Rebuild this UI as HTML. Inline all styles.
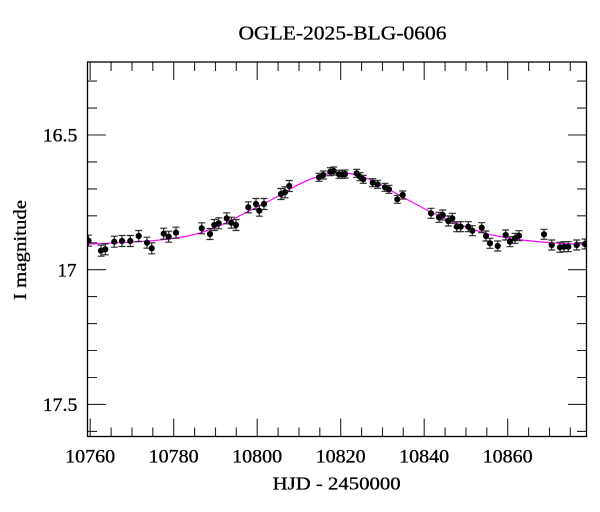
<!DOCTYPE html>
<html><head><meta charset="utf-8"><style>
html,body{margin:0;padding:0;background:#fff;}
svg{display:block;}
text{font-family:"Liberation Serif","DejaVu Serif",serif;fill:#000;stroke:#000;stroke-width:0.3;}
</style></head><body>
<svg width="600" height="512" viewBox="0 0 600 512" xmlns="http://www.w3.org/2000/svg">
<defs>
<clipPath id="cp"><rect x="87.5" y="62" width="499" height="374.5"/></clipPath>
<g id="a"><path d="M-3.5 -5.5H3.5M0 -5.5V5.5M-3.5 5.5H3.5" stroke="#2a2a2a" stroke-width="1.2" fill="none"/><circle r="3.1" fill="#000"/></g>
<g id="b"><path d="M-3.5 -4H3.5M0 -4V4M-3.5 4H3.5" stroke="#2a2a2a" stroke-width="1.2" fill="none"/><circle r="3.1" fill="#000"/></g>
<g id="c"><path d="M-3.5 -5H3.5M0 -5V5M-3.5 5H3.5" stroke="#2a2a2a" stroke-width="1.2" fill="none"/><circle r="3.1" fill="#000"/></g>
</defs>

<text x="342.5" y="39.5" font-size="20" text-anchor="middle" textLength="208" lengthAdjust="spacingAndGlyphs">OGLE-2025-BLG-0606</text>

<g clip-path="url(#cp)">
<polyline fill="none" stroke="#ff00ff" stroke-width="1.2" points="87.5,244 100,243.6 119,242.7 135,241.9 153,240.7 170,238.9 186,236.4 200,233 210,229.6 219,226 230,221 240,215.5 250,210.5 260,205.5 270,200.5 280,195 290,189 300,183.8 310,179.3 319,176.2 327,174 336,172.7 345,172.9 352,174 360,176 368,178.8 375,181.8 383,186 390,190 400,195.5 410,201 423,208 440,216.3 457,223.3 473,229.5 490,234.6 507,237.9 523,240.1 540,241.9 557,243.2 572,243.9 587,244.3"/>

<use href="#a" x="88.5" y="240.7"/>
<use href="#a" x="101" y="250.7"/>
<use href="#a" x="105.3" y="249.3"/>
<use href="#a" x="114.3" y="241.7"/>
<use href="#a" x="122" y="241"/>
<use href="#a" x="130.3" y="241"/>
<use href="#a" x="138.7" y="236"/>
<use href="#a" x="147" y="242.7"/>
<use href="#a" x="151.7" y="248.3"/>
<use href="#a" x="163.7" y="233.7"/>
<use href="#a" x="168.7" y="236.7"/>
<use href="#a" x="176" y="232.7"/>
<use href="#a" x="201.7" y="228.3"/>
<use href="#a" x="210" y="234"/>
<use href="#a" x="214.3" y="225"/>
<use href="#a" x="218.7" y="223.3"/>
<use href="#a" x="226.7" y="218.3"/>
<use href="#a" x="231.3" y="222.7"/>
<use href="#a" x="236" y="225"/>
<use href="#a" x="248.3" y="207.3"/>
<use href="#a" x="256" y="204"/>
<use href="#a" x="259.3" y="210.7"/>
<use href="#a" x="264" y="204"/>
<use href="#a" x="281" y="194"/>
<use href="#a" x="285" y="192.3"/>
<use href="#a" x="289.3" y="186"/>

<use href="#b" x="319" y="177.3"/>
<use href="#b" x="323.3" y="175"/>
<use href="#b" x="330.3" y="171.7"/>
<use href="#b" x="333.7" y="171"/>
<use href="#b" x="339" y="174.3"/>
<use href="#b" x="342.3" y="174.3"/>
<use href="#b" x="345" y="174"/>
<use href="#b" x="356.7" y="173.3"/>
<use href="#b" x="360" y="176.7"/>
<use href="#b" x="363.3" y="179.3"/>
<use href="#b" x="372.7" y="182.7"/>
<use href="#b" x="377.7" y="184.3"/>
<use href="#b" x="385" y="187.3"/>
<use href="#b" x="389" y="189.3"/>
<use href="#b" x="397.3" y="199.3"/>
<use href="#b" x="402.7" y="195"/>

<use href="#c" x="431" y="213.3"/>
<use href="#c" x="439" y="217.3"/>
<use href="#c" x="442.7" y="215"/>
<use href="#c" x="448.3" y="221"/>
<use href="#c" x="452.3" y="218.3"/>
<use href="#c" x="456.7" y="226.7"/>
<use href="#c" x="460.7" y="226.7"/>
<use href="#c" x="468.3" y="226.7"/>
<use href="#c" x="472.3" y="230.7"/>
<use href="#c" x="481.7" y="227.7"/>
<use href="#c" x="486" y="236"/>
<use href="#c" x="490" y="243.3"/>
<use href="#c" x="497.7" y="246"/>
<use href="#c" x="505.7" y="235"/>
<use href="#c" x="510" y="241.7"/>
<use href="#c" x="515" y="238.3"/>
<use href="#c" x="519" y="235.7"/>
<use href="#c" x="544" y="234.3"/>
<use href="#c" x="551.7" y="245"/>
<use href="#c" x="560" y="247.3"/>
<use href="#c" x="564" y="246.7"/>
<use href="#c" x="568.3" y="246.7"/>
<use href="#c" x="576.7" y="245"/>
<use href="#c" x="585" y="244"/>
</g>

<g stroke="#222" stroke-width="1.1" fill="none">
<path d="M90.2 436.5V418.5M173.7 436.5V418.5M257.2 436.5V418.5M340.7 436.5V418.5M424.2 436.5V418.5M507.7 436.5V418.5
M90.2 62V80M173.7 62V80M257.2 62V80M340.7 62V80M424.2 62V80M507.7 62V80"/>
<path d="M111.1 436.5V427.5M132 436.5V427.5M152.8 436.5V427.5M194.6 436.5V427.5M215.5 436.5V427.5M236.3 436.5V427.5M278.1 436.5V427.5M299 436.5V427.5M319.8 436.5V427.5M361.6 436.5V427.5M382.5 436.5V427.5M403.3 436.5V427.5M445.1 436.5V427.5M466 436.5V427.5M486.8 436.5V427.5M528.6 436.5V427.5M549.5 436.5V427.5M570.3 436.5V427.5
M111.1 62V71M132 62V71M152.8 62V71M194.6 62V71M215.5 62V71M236.3 62V71M278.1 62V71M299 62V71M319.8 62V71M361.6 62V71M382.5 62V71M403.3 62V71M445.1 62V71M466 62V71M486.8 62V71M528.6 62V71M549.5 62V71M570.3 62V71"/>
<path d="M87.5 135H106M87.5 269.7H106M87.5 404.4H106M586.5 135H568M586.5 269.7H568M586.5 404.4H568"/>
<path d="M87.5 81.1H97M87.5 108.1H97M87.5 161.9H97M87.5 188.9H97M87.5 215.8H97M87.5 242.8H97M87.5 296.6H97M87.5 323.6H97M87.5 350.5H97M87.5 377.5H97M87.5 431.4H97
M586.5 81.1H577M586.5 108.1H577M586.5 161.9H577M586.5 188.9H577M586.5 215.8H577M586.5 242.8H577M586.5 296.6H577M586.5 323.6H577M586.5 350.5H577M586.5 377.5H577M586.5 431.4H577"/>
</g>
<rect x="87.5" y="62" width="499" height="374.5" fill="none" stroke="#000" stroke-width="1.3"/>

<g font-size="18.5" text-anchor="end">
<text x="77.3" y="141.5" textLength="34.5" lengthAdjust="spacingAndGlyphs">16.5</text>
<text x="76.5" y="276.3" textLength="19" lengthAdjust="spacingAndGlyphs">17</text>
<text x="77.3" y="411" textLength="34.5" lengthAdjust="spacingAndGlyphs">17.5</text>
</g>
<g font-size="18.5" text-anchor="middle">
<text x="90.2" y="462.5" textLength="50" lengthAdjust="spacingAndGlyphs">10760</text>
<text x="173.7" y="462.5" textLength="50" lengthAdjust="spacingAndGlyphs">10780</text>
<text x="257.2" y="462.5" textLength="50" lengthAdjust="spacingAndGlyphs">10800</text>
<text x="340.7" y="462.5" textLength="50" lengthAdjust="spacingAndGlyphs">10820</text>
<text x="424.2" y="462.5" textLength="50" lengthAdjust="spacingAndGlyphs">10840</text>
<text x="507.7" y="462.5" textLength="50" lengthAdjust="spacingAndGlyphs">10860</text>
</g>

<text x="336.7" y="489.3" font-size="18" text-anchor="middle" textLength="128" lengthAdjust="spacingAndGlyphs">HJD - 2450000</text>
<text transform="translate(26,250) rotate(-90)" font-size="18" text-anchor="middle" textLength="100" lengthAdjust="spacingAndGlyphs">I magnitude</text>
</svg>
</body></html>
